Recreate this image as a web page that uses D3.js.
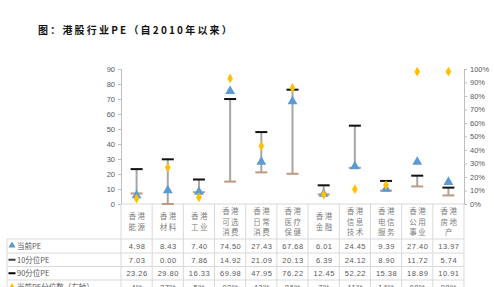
<!DOCTYPE html>
<html>
<head>
<meta charset="utf-8">
<script src="https://cdn.jsdelivr.net/npm/d3@7"></script>
<style>
  body { margin: 0; background: #fff; }
  text { font-family: "Liberation Sans", "Noto Sans CJK SC", sans-serif; }
</style>
</head>
<body>
<div id="chart"></div>
<script>
// data
var categories = [["香港","能源"],["香港","材料"],["香港","工业"],["香港","可选","消费"],["香港","日常","消费"],
  ["香港","医疗","保健"],["香港","金融"],["香港","信息","技术"],["香港","电信","服务"],["香港","公用","事业"],["香港","房地","产"]];
var curPE = [4.98, 8.43, 7.40, 74.50, 27.43, 67.68, 6.01, 24.45, 9.39, 27.40, 13.97];
var p10PE = [7.03, 0.00, 7.86, 14.92, 21.09, 20.13, 6.39, 24.12, 8.90, 11.72, 5.74];
var p90PE = [23.26, 29.80, 16.33, 69.98, 47.95, 76.22, 12.45, 52.22, 15.38, 18.89, 10.91];
var pctRank = [0.04, 0.27, 0.05, 0.93, 0.43, 0.86, 0.07, 0.11, 0.14, 0.98, 0.98];
var leftTicks = [0,10,20,30,40,50,60,70,80,90];
var rightTicks = [0,0.1,0.2,0.3,0.4,0.5,0.6,0.7,0.8,0.9,1];

var W = 494, H = 287;
var plotL = 121, plotR = 464, plotT = 69, plotB = 204;

var svg = d3.select("#chart").append("svg")
    .attr("width", W).attr("height", H);

// title
svg.append("text")
  .attr("x", 38).attr("y", 34)
  .style("font-family", "'Noto Sans CJK SC', sans-serif")
  .style("font-size", "10px").style("font-weight", "bold")
  .style("letter-spacing", "2.2px")
  .attr("fill", "#111")
  .text("图：港股行业PE（自2010年以来）");

var idx = d3.range(categories.length);
var x = d3.scaleBand().domain(idx).range([plotL, plotR]).padding(0);
var y = d3.scaleLinear().domain([0, 90]).range([plotB, plotT]);
var y2 = d3.scaleLinear().domain([0, 1]).range([plotB, plotT]);

// axes
var gl = svg.append("g").attr("transform", "translate(" + plotL + ",0)")
  .call(d3.axisLeft(y).tickValues(leftTicks).tickSize(3).tickPadding(3));
var gr = svg.append("g").attr("transform", "translate(" + plotR + ",0)")
  .call(d3.axisRight(y2).tickValues(rightTicks).tickSize(3).tickPadding(3).tickFormat(d3.format(".0%")));
[gl, gr].forEach(function(g){
  g.select(".domain").attr("stroke", "#BFBFBF");
  g.selectAll(".tick line").attr("stroke", "#BFBFBF");
  g.selectAll("text").attr("fill", "#595959").style("font-size", "7.5px");
});

// table grid
var grid = "#D9D9D9";
var rowY = [plotB, 239, 253, 266.5, 280, 294];
svg.append("line").attr("x1", plotL).attr("x2", plotR).attr("y1", plotB).attr("y2", plotB).attr("stroke", grid);
rowY.slice(1).forEach(function(r){
  svg.append("line").attr("x1", 7).attr("x2", plotR).attr("y1", r).attr("y2", r).attr("stroke", grid);
});
idx.concat([categories.length]).forEach(function(i){
  var xx = i < categories.length ? x(i) : plotR;
  svg.append("line").attr("x1", xx).attr("x2", xx).attr("y1", plotB).attr("y2", H).attr("stroke", grid);
});
svg.append("line").attr("x1", 7).attr("x2", 7).attr("y1", 239).attr("y2", H).attr("stroke", grid);

// category labels
idx.forEach(function(i){
  var lines = categories[i];
  var cy = (plotB + 239) / 2, lh = 10.5;
  var y0 = cy - (lines.length - 1) * lh / 2 + 3;
  var t = svg.append("text").attr("text-anchor", "middle")
    .style("font-family", "'Noto Sans CJK SC', sans-serif")
    .style("font-size", "7.5px").style("letter-spacing", "1.5px").attr("fill", "#7F7F7F");
  lines.forEach(function(s, k){
    t.append("tspan").attr("x", x(i) + x.bandwidth() / 2 + 1).attr("y", y0 + k * lh).text(s);
  });
});

// table rows
var fmt = d3.format(".2f");
var rows = [
  {name: "当前PE", vals: curPE, sym: "tri"},
  {name: "10分位PE", vals: p10PE, sym: "dash10"},
  {name: "90分位PE", vals: p90PE, sym: "dash90"},
  {name: "当前PE分位数（右轴）", vals: pctRank.map(function(v){ return d3.format(".0%")(v); }), sym: "dia"}
];
rows.forEach(function(r, k){
  var cy = (rowY[k + 1] + rowY[k + 2]) / 2;
  var sx = 12;
  if (r.sym == "tri") {
    svg.append("path").attr("d", d3.symbol(d3.symbolTriangle, 22)()).attr("transform", "translate(" + sx + "," + (cy - 0.5) + ")").attr("fill", "#5B9BD5");
  } else if (r.sym == "dia") {
    svg.append("path").attr("d", d3.symbol(d3.symbolDiamond, 18)()).attr("transform", "translate(" + sx + "," + cy + ")").attr("fill", "#FFC000");
  } else {
    svg.append("rect").attr("x", sx - 3.5).attr("y", cy - 1).attr("width", 7).attr("height", 2)
      .attr("fill", r.sym == "dash90" ? "#000" : "#404040");
  }
  svg.append("text").attr("x", 17).attr("y", cy + 2.8)
    .style("font-family", "'Noto Sans CJK SC', sans-serif")
    .style("font-size", "7.5px").attr("fill", "#595959").text(r.name);
  idx.forEach(function(i){
    svg.append("text").attr("x", x(i) + x.bandwidth() / 2 + 0.5).attr("y", cy + 2.8)
      .attr("text-anchor", "middle").style("font-size", "7.5px").style("letter-spacing", "0.5px")
      .attr("fill", "#595959")
      .text(typeof r.vals[i] == "number" ? fmt(r.vals[i]) : r.vals[i]);
  });
});

// range bars
var cx = function(i){ return x(i) + x.bandwidth() / 2; };
var marks = svg.append("g");
idx.forEach(function(i){
  marks.append("line").attr("x1", cx(i)).attr("x2", cx(i))
    .attr("y1", y(p10PE[i])).attr("y2", y(p90PE[i]))
    .attr("stroke", "#A6A6A6").attr("stroke-width", 2);
  marks.append("rect").attr("x", cx(i) - 6).attr("y", y(p10PE[i]) - 1).attr("width", 12).attr("height", 2)
    .attr("fill", "#C09A80");
  marks.append("rect").attr("x", cx(i) - 6).attr("y", y(p90PE[i]) - 1).attr("width", 12).attr("height", 2)
    .attr("fill", "#111");
});

// current PE triangles
marks.selectAll(".tri").data(curPE).enter().append("path")
  .attr("d", d3.symbol(d3.symbolTriangle, 42)())
  .attr("transform", function(d, i){ return "translate(" + cx(i) + "," + (y(d) - 1) + ")"; })
  .attr("fill", "#5B9BD5");

// percentile diamonds
marks.selectAll(".dia").data(pctRank).enter().append("path")
  .attr("d", d3.symbol(d3.symbolDiamond, 28)())
  .attr("transform", function(d, i){ return "translate(" + cx(i) + "," + y2(d) + ")"; })
  .attr("fill", "#FFC000");
</script>
</body>
</html>
